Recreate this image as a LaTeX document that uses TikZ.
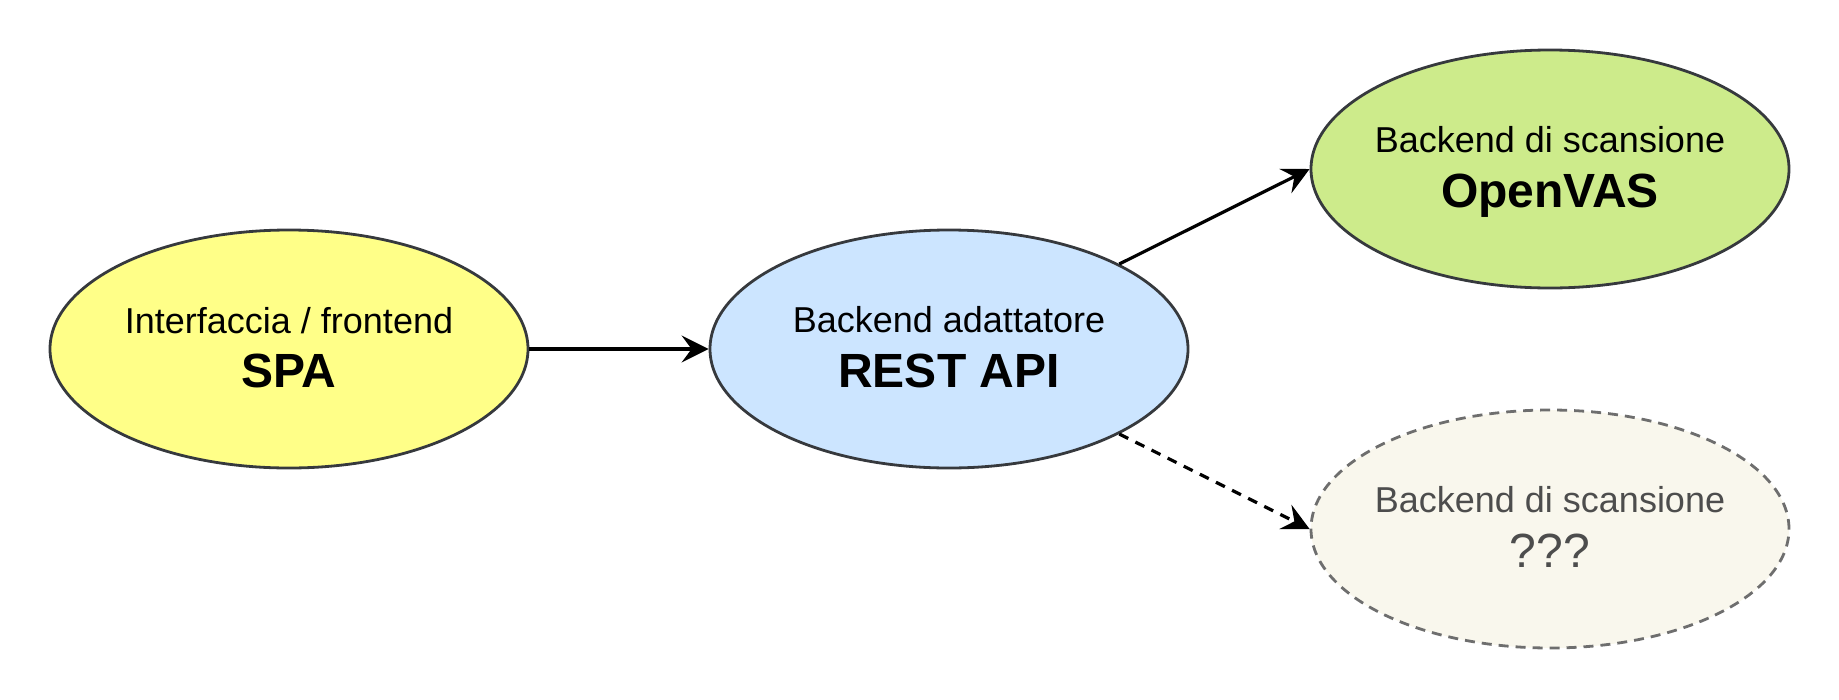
\documentclass[tikz,border=0pt]{standalone}
\usepackage{fontspec}
\setmainfont{Liberation Sans}
\usetikzlibrary{shapes.geometric,arrows.meta}
\definecolor{strokedark}{HTML}{36393D}
\definecolor{fillyellow}{HTML}{FFFF88}
\definecolor{fillblue}{HTML}{CCE5FF}
\definecolor{fillgreen}{HTML}{CDEB8B}
\definecolor{fillgrey}{HTML}{F9F7ED}
\definecolor{strokegrey}{HTML}{6E6E6E}
\definecolor{textgrey}{HTML}{4D4D4D}
\tikzset{
  blob/.style={ellipse, draw=strokedark, line width=2.8pt, minimum width=478pt, minimum height=238pt, inner sep=0pt},
  ghost/.style={ellipse, draw=strokegrey, fill=fillgrey, line width=2.8pt, dash pattern=on 10pt off 7pt, minimum width=478pt, minimum height=238pt, inner sep=0pt},
  smalltxt/.style={anchor=base, inner sep=0pt, font=\fontsize{36}{43}\selectfont},
  bigtxt/.style={anchor=base, inner sep=0pt, font=\fontsize{48}{58}\selectfont\bfseries},
  conn/.style={line width=3.2pt, -{Stealth[length=27pt, width=27pt, inset=10pt]}},
}
\begin{document}
\begin{tikzpicture}[x=1pt, y=-1pt]
\useasboundingbox (0,0) rectangle (1839,699);
\node[blob, fill=fillyellow] (spa) at (289,349) {};
\node[blob, fill=fillblue] (rest) at (949,349) {};
\node[blob, fill=fillgreen] (ov) at (1550,169) {};
\node[ghost] (unk) at (1550,529) {};

\node[smalltxt] (spa1) at ([yshift=16pt]spa.center) {Interfaccia / frontend};
\node[bigtxt] (spa2) at ([yshift=-38pt]spa.center) {SPA};
\node[smalltxt] (rest1) at ([yshift=17pt]rest.center) {Backend adattatore};
\node[bigtxt] (rest2) at ([yshift=-38pt]rest.center) {REST API};
\node[smalltxt] (ov1) at ([yshift=17pt]ov.center) {Backend di scansione};
\node[bigtxt] (ov2) at ([yshift=-38pt]ov.center) {OpenVAS};
\node[smalltxt, text=textgrey] (unk1) at ([yshift=17pt]unk.center) {Backend di scansione};
\node[bigtxt, font=\fontsize{48}{58}\selectfont, text=textgrey] (unk2) at ([yshift=-38pt]unk.center) {???};

\draw[conn] (spa) -- (rest);
\draw[conn] (rest) -- (ov.west);
\draw[conn, dash pattern=on 10pt off 8pt] (rest) -- (unk.west);
\end{tikzpicture}
\end{document}
